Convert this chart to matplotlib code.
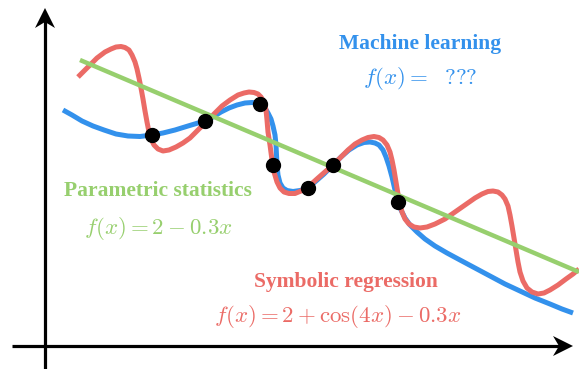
import matplotlib
matplotlib.use("Agg")
import matplotlib.pyplot as plt
from matplotlib.patches import Polygon

plt.rcParams['mathtext.fontset'] = 'cm'

# values, in pixel units (y grows downward)
blue_x = [63, 72, 82, 93, 104, 116, 128, 140, 152, 163, 175, 188, 198, 205, 213, 221,
          229, 237, 245, 252, 258, 262, 265, 268, 271, 273, 275, 276, 276.5, 277, 278,
          280, 283, 287, 293, 300, 308, 316, 324, 333, 341, 349, 357, 364, 370, 375,
          379, 383, 386, 389, 392, 395, 398, 401, 405, 410, 417, 425, 435, 447, 460,
          475, 490, 505, 520, 535, 550, 562, 573]
blue_y = [110, 115, 121, 126, 130, 134, 136, 136.5, 135, 133, 130, 126, 123, 121, 117, 112,
          108, 105, 103, 102.5, 103, 105, 108, 113, 119, 126, 135, 145, 155, 165, 175,
          183, 188, 190.5, 191.5, 190.5, 188, 181, 174, 165, 157, 150, 145, 142.5, 142, 143,
          145, 150, 157, 166, 177, 190, 201, 210, 218, 225, 232, 239, 246, 253, 260,
          268, 276, 284, 291, 298, 304, 309, 313]

red_x = [78, 84, 90, 97, 105, 111, 116, 121, 125, 129, 132, 135, 137, 139, 141, 143,
         145, 147, 149, 151, 154, 158, 163, 169, 176, 183, 190, 198, 206, 214, 222, 230,
         238, 244, 249, 254, 258, 261, 264, 266, 267, 268, 270, 272, 274, 277, 280, 284,
         289, 295, 301, 308, 318, 326, 333, 340, 348, 355, 362, 368, 374, 379, 383, 387,
         390, 392, 394, 396, 398, 400, 402, 405, 409, 414, 420, 427, 435, 445, 455, 465,
         475, 482, 488, 493, 498, 502, 505, 508, 510, 512, 514, 516, 518, 520, 523, 527,
         532, 538, 544, 550, 558, 566, 573, 579]
red_y = [77, 71, 65, 58, 52, 49, 47, 46.5, 47.5, 50, 55, 62, 69, 78, 88, 99,
         111, 122, 132, 139, 145, 149, 151, 150, 147, 143, 138, 130, 122, 114, 106, 100,
         95, 93, 92, 92.5, 94, 97, 102, 110, 120, 132, 145, 160, 172, 182, 188, 192,
         193.5, 193.5, 191, 187, 178, 171, 165, 158, 150, 144, 140, 137.5, 136.5, 137.5, 140, 145,
         152, 160, 170, 182, 194, 204, 212, 219, 224, 227, 228, 227, 224, 219, 212, 205,
         198, 194, 191.5, 191, 192, 195, 199, 206, 215, 226, 238, 250, 262, 272, 281, 288,
         292, 294, 293, 290, 285, 279, 274, 269]

green_x = [80, 579]
green_y = [60, 272]

pts_x = [152, 205, 260, 273, 308, 333, 398]
pts_y = [135, 121, 104, 165, 188, 165, 202]

BLUE = '#3391EC'
RED = '#EB6B66'
GREEN = '#97CF6E'

fig = plt.figure(figsize=(5.79, 3.69), dpi=100)
ax = fig.add_axes([0, 0, 1, 1])
ax.set_xlim(0, 579)
ax.set_ylim(369, 0)
ax.axis('off')

# axes with arrow heads
ax.plot([45, 45], [369, 20], color='black', lw=2.3, solid_capstyle='butt')
ax.plot([12, 560], [346, 346], color='black', lw=2.3, solid_capstyle='butt')
ax.add_patch(Polygon([[45, 8], [35, 28], [45, 22], [55, 28]], closed=True,
                     color='black', lw=0))
ax.add_patch(Polygon([[573, 346], [553, 336], [559, 346], [553, 356]], closed=True,
                     color='black', lw=0))

line_kw = dict(lw=3.6, solid_capstyle='butt', solid_joinstyle='round')
ax.plot(blue_x, blue_y, color=BLUE, zorder=3, **line_kw)
ax.plot(red_x, red_y, color=RED, zorder=4, **line_kw)
ax.plot(green_x, green_y, color=GREEN, lw=3.2, solid_capstyle='butt', zorder=5)
ax.plot(pts_x, pts_y, 'o', color='black', ms=10, zorder=6)

bold = dict(family='Liberation Serif', weight='bold', fontsize=15.5,
            ha='center', va='center')
math = dict(fontsize=16.5, ha='center', va='center')
ax.text(420, 44, 'Machine learning', color=BLUE, **bold)
ax.text(420, 78, r'$f(x) =\ \ ???$', color=BLUE, **math)
ax.text(158, 191, 'Parametric statistics', color=GREEN, **bold)
ax.text(158, 228, r'$f(x) = 2 - 0.3x$', color=GREEN, **math)
ax.text(346, 282, 'Symbolic regression', color=RED, **bold)
ax.text(338, 316, r'$f(x) = 2 + \cos(4x) - 0.3x$', color=RED, **math)

fig.savefig('out.png', dpi=100)
